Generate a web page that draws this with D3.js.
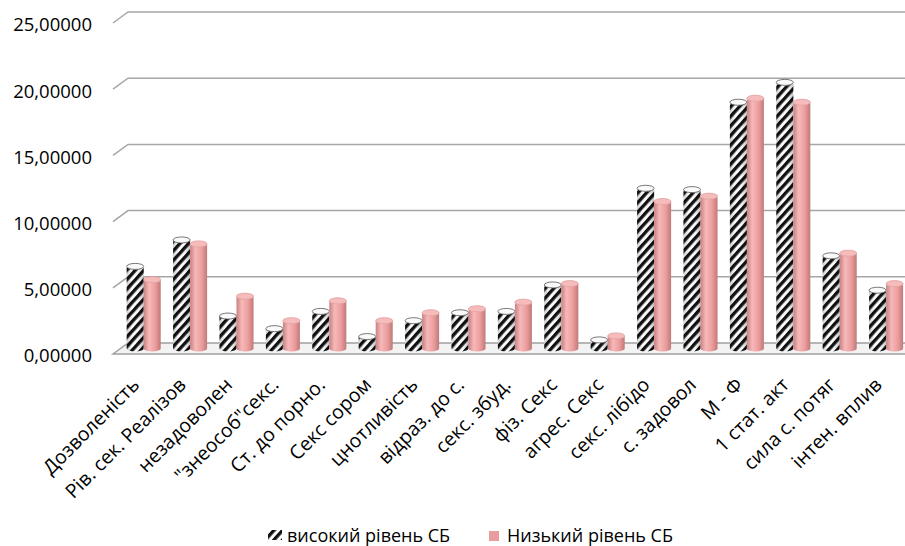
<!DOCTYPE html>
<html lang="uk">
<head>
<meta charset="UTF-8">
<title>Рівень СБ</title>
<style>
    body { margin: 0; padding: 0; background: #fff; }
    svg text { font-family: "Open Sans", "Noto Sans", sans-serif; fill: #000; }
</style>
</head>
<body>
<div id="chart"></div>
<script src="https://d3js.org/d3.v7.min.js"></script>
<script>
    const categories = ["Дозволеність", "Рів. сек. Реалізов", "незадоволен", "\"знеособ\"секс.",
        "Ст. до порно.", "Секс сором", "цнотливість", "відраз. до с.", "секс. збуд.", "фіз. Секс",
        "агрес. Секс", "секс. лібідо", "с. задовол", "М - Ф", "1 стат. акт", "сила с. потяг", "інтен. вплив"];
    const seriesNames = ["високий рівень СБ", "Низький рівень СБ"];
    const highValues = [6.2, 8.2, 2.45, 1.5, 2.8, 0.9, 2.1, 2.7, 2.8, 4.8, 0.65, 12.1, 12.0, 18.6, 20.1, 7.0, 4.4];
    const lowValues  = [5.2, 7.9, 3.95, 2.1, 3.6, 2.1, 2.7, 3.0, 3.5, 4.9, 0.95, 11.1, 11.5, 18.9, 18.6, 7.2, 4.9];
    const yTicks = [0, 5, 10, 15, 20, 25];

    const width = 905, height = 546;
    const depthX = 15, depthY = 11;      // 3d offset back wall -> front
    const backLeft = 128;
    const step = 46.4;

    const svg = d3.select("#chart").append("svg")
        .attr("width", width)
        .attr("height", height);

    const defs = svg.append("defs");
    const hatch = defs.append("pattern")
        .attr("id", "hatch")
        .attr("patternUnits", "userSpaceOnUse")
        .attr("width", 6.4).attr("height", 6.4)
        .attr("patternTransform", "rotate(42)");
    hatch.append("rect").attr("width", 6.4).attr("height", 6.4).attr("fill", "#fff");
    hatch.append("rect").attr("width", 3.3).attr("height", 6.4).attr("fill", "#111");

    const pinkGrad = defs.append("linearGradient").attr("id", "pinkBody");
    pinkGrad.selectAll("stop")
        .data([[0, "#d98c8c"], [0.3, "#f7b9b9"], [0.65, "#f0a2a2"], [1, "#d48585"]])
        .enter().append("stop")
        .attr("offset", d => d[0]).attr("stop-color", d => d[1]);

    const shade = defs.append("linearGradient").attr("id", "shade");
    shade.selectAll("stop")
        .data([[0, 0.25], [0.35, 0], [0.7, 0.05], [1, 0.3]])
        .enter().append("stop")
        .attr("offset", d => d[0]).attr("stop-color", "#000").attr("stop-opacity", d => d[1]);

    // scales: back wall, front edge and the middle plane where the cylinders stand
    const yBack = d3.scaleLinear().domain([0, 25]).range([343, 12]);
    const yFront = d3.scaleLinear().domain([0, 25]).range([343 + depthY, 12 + depthY]);
    const yMid = d3.scaleLinear().domain([0, 25]).range([343 + depthY / 2, 12 + depthY / 2]);

    const x0 = d3.scaleBand()
        .domain(categories)
        .range([backLeft - depthX / 2, backLeft - depthX / 2 + step * categories.length])
        .paddingInner(0.267)
        .paddingOuter(0.1335);
    const x1 = d3.scaleBand().domain(seriesNames).range([0, x0.bandwidth()]);

    // floor
    const fl = backLeft - depthX;
    svg.append("path")
        .attr("d", `M${fl},${yFront(0)} L${backLeft},${yBack(0)} L${width + 20},${yBack(0)} L${width + 5},${yFront(0)} Z`)
        .attr("fill", "#f3f3f3")
        .attr("stroke", "#a0a0a0")
        .attr("stroke-width", 1.5);

    // gridlines
    svg.append("g").selectAll("path")
        .data(yTicks.filter(t => t > 0))
        .enter().append("path")
        .attr("d", t => `M${fl},${yFront(t)} L${backLeft},${yBack(t)} L${width},${yBack(t)}`)
        .attr("fill", "none")
        .attr("stroke", "#a6a6a6")
        .attr("stroke-width", 1.5);

    // y axis labels
    const yAxis = svg.append("g")
        .attr("transform", `translate(${fl - 13},2)`)
        .call(d3.axisLeft(yFront).tickValues(yTicks).tickSize(0).tickPadding(8)
            .tickFormat(d => d3.format(".5f")(d).replace(".", ",")));
    yAxis.select(".domain").remove();
    yAxis.selectAll("text").attr("font-size", 18.5).attr("font-family", null);

    // cylinders
    const data = categories.map((c, i) => ({ cat: c, vals: [highValues[i], lowValues[i]] }));
    const w = x1.bandwidth(), rx = w / 2, ry = 3;

    function bodyPath(xl, yt, yb) {
        return `M${xl},${yt} L${xl},${yb} A${rx},${ry} 0 0 0 ${xl + w},${yb} L${xl + w},${yt} A${rx},${ry} 0 0 1 ${xl},${yt} Z`;
    }

    const groups = svg.append("g").selectAll("g")
        .data(data)
        .enter().append("g")
        .attr("transform", d => `translate(${x0(d.cat)},0)`);

    seriesNames.forEach((s, si) => {
        const xl = x1(s);
        groups.append("path")
            .attr("d", d => bodyPath(xl, yMid(d.vals[si]), yMid(0)))
            .attr("fill", si === 0 ? "url(#hatch)" : "url(#pinkBody)");
        groups.append("path")
            .attr("d", d => bodyPath(xl, yMid(d.vals[si]), yMid(0)))
            .attr("fill", "url(#shade)")
            .attr("opacity", si === 0 ? 0.8 : 0.3);
        groups.append("ellipse")
            .attr("cx", xl + rx)
            .attr("cy", d => yMid(d.vals[si]))
            .attr("rx", rx).attr("ry", ry)
            .attr("fill", si === 0 ? "#fafafa" : "#f6bcbc")
            .attr("stroke", si === 0 ? "#555" : "#e09a9a")
            .attr("stroke-width", 0.8);
    });

    // x axis labels
    const xAxis = svg.append("g")
        .attr("transform", "translate(-3,386)")
        .call(d3.axisBottom(x0).tickSize(0).tickPadding(0));
    xAxis.select(".domain").remove();
    xAxis.selectAll("text")
        .attr("font-size", 19.5)
        .attr("font-family", null)
        .attr("text-anchor", "end")
        .attr("y", 0)
        .attr("dy", null)
        .attr("transform", "rotate(-45)");

    // legend
    const legend = svg.append("g");
    legend.append("rect")
        .attr("x", 268).attr("y", 530).attr("width", 14).attr("height", 10)
        .attr("fill", "url(#hatch)");
    legend.append("text")
        .attr("x", 287).attr("y", 542)
        .attr("font-size", 18)
        .text(seriesNames[0]);
    legend.append("rect")
        .attr("x", 489).attr("y", 531).attr("width", 10).attr("height", 10)
        .attr("fill", "#eb9d9d");
    legend.append("text")
        .attr("x", 507).attr("y", 542)
        .attr("font-size", 18)
        .text(seriesNames[1]);
</script>
</body>
</html>
